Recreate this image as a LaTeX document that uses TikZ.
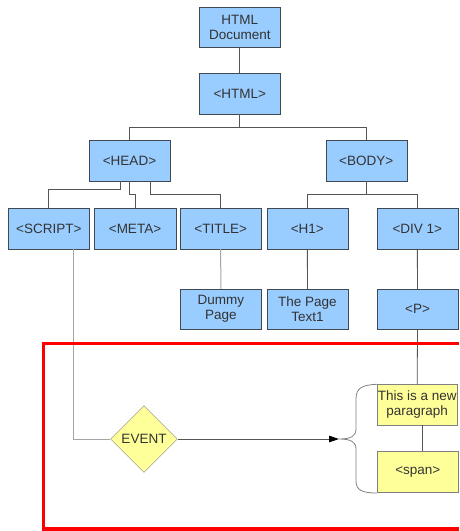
\documentclass[tikz,border=0pt]{standalone}
\usepackage{fontspec}
\setmainfont{Liberation Sans}
\usetikzlibrary{shapes.geometric,arrows.meta}
\definecolor{tagblue}{RGB}{153,204,255}
\definecolor{noteyellow}{RGB}{255,255,153}
\definecolor{rimgray}{RGB}{64,72,82}
\definecolor{inkgray}{RGB}{51,51,51}
\definecolor{wiregray}{RGB}{85,85,85}
\definecolor{palegray}{RGB}{165,165,165}

\tikzstyle{tag}=[rectangle,draw=rimgray,fill=tagblue,text=inkgray,minimum width=81pt,minimum height=40.5pt,inner sep=0pt,align=center,font=\fontsize{13.5}{15}\selectfont]
\tikzstyle{note}=[tag,fill=noteyellow,draw=gray]
\tikzstyle{decision}=[diamond,draw=gray,fill=noteyellow,text=inkgray,minimum width=67pt,minimum height=67pt,inner sep=0pt,font=\fontsize{13.5}{15}\selectfont]
\tikzstyle{wire}=[draw=wiregray,line width=0.8pt]
\tikzstyle{paleline}=[draw=palegray,line width=1pt]

\begin{document}
\begin{tikzpicture}[x=1pt,y=-1pt]
	\useasboundingbox (0,0) rectangle (459,531);
			\node[tag] (doc) at (239.8,27.3) {HTML\\Document};
			\node[tag] (html) at (239.8,93.5) {<HTML>};
			\node[tag] (head) at (129.5,160.8) {<HEAD>};
			\node[tag] (body) at (366.2,160.8) {<BODY>};
			\node[tag] (script) at (48.8,228.5) {<SCRIPT>};
			\node[tag,minimum width=82pt] (meta) at (135,228.5) {<META>};
			\node[tag] (title) at (220.7,228.5) {<TITLE>};
			\node[tag] (h1) at (307.3,228.5) {<H1>};
			\node[tag] (div) at (417.3,228.5) {<DIV 1>};
			\node[tag] (dummy) at (220.8,309.2) {Dummy\\Page};
			\node[tag] (text1) at (307.5,309.2) {The Page\\Text1};
			\node[tag] (p) at (417.5,309.2) {<P>};
			\node[note,minimum width=80pt] (para) at (417.2,404.7) {This is a new\\paragraph};
			\node[note,minimum width=81.5pt] (span) at (417.8,471.5) {<span>};
			\node[decision] (event) at (144,439) {EVENT};
			\coordinate (tip) at (339,439);
			% Then the tree edges
			\draw[wire] (doc) -- (html);
			\draw[wire] (html.south) -- ++(0,13.5) -| (head.north);
			\draw[wire] (html.south) -- ++(0,13.5) -| (body.north);
			\draw[wire] ([xshift=-9.5pt]head.south) -- ++(0,8) -| (script.north);
			\draw[wire] (head.south) -- ++(0,13) -| (meta.north);
			\draw[wire] ([xshift=21pt]head.south) -- ++(0,13) -| (title.north);
			\draw[wire] (body.south) -- ++(0,13) -| (h1.north);
			\draw[wire] (body.south) -- ++(0,13) -| (div.north);
			\draw[paleline] (title) -- (dummy);
			\draw[wire] (h1) -- (text1);
			\draw[wire] (div) -- (p);
			\draw[wire] (p.south) -- (para.north);
			\draw[wire] ([xshift=5.5pt]para.south) -- ([xshift=4.9pt]span.north);
			\draw[paleline] ([xshift=25pt]script.south) |- (event.west);
			\draw[wire,-{Triangle[length=10pt,width=6.5pt,color=black]}] (event.east) -- (tip);
			% the brace round the paragraph
			\draw[wire,draw=gray] (para.north west) .. controls (362,385) and (356,388) .. (356,399) -- (356,429) .. controls (356,436) and (351,439) .. (tip)
				.. controls (351,439) and (356,442) .. (356,449) -- (356,481) .. controls (356,490) and (362,493) .. (377,493);
			% Finally the red frame
			\draw[red,line width=3.2pt] (459,343.5) -- (43.3,343.5) -- (43.3,529) -- (459,529);
		\end{tikzpicture}
\end{document}
